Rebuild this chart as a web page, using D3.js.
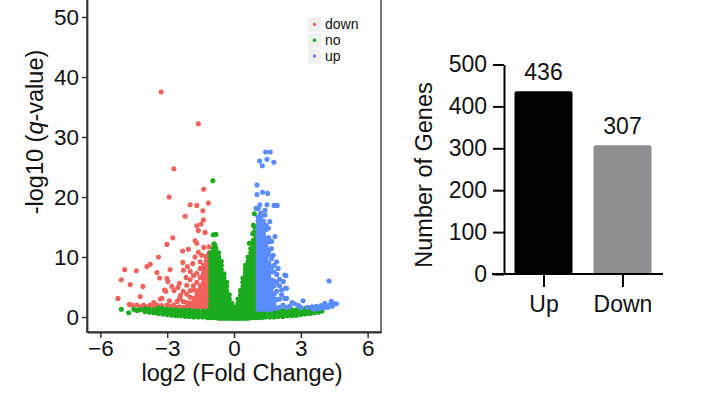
<!DOCTYPE html>
<html><head><meta charset="utf-8">
<script src="https://cdn.jsdelivr.net/npm/d3@7"></script>
<style>body{margin:0;background:#fff;} svg{display:block;font-family:"Liberation Sans",Arial,sans-serif;}</style>
</head><body><svg id="c" width="710" height="402"></svg>
<script>
// ---------- volcano plot data ----------
const xTicks = [-6, -3, 0, 3, 6];
const yTicks = [0, 10, 20, 30, 40, 50];
const legendLabels = ["down", "no", "up"];

// scattered "down" genes [log2FC, -log10 q]
const downPoints = [
  [-3.27,37.5],[-1.60,32.2],[-2.70,24.7],[-1.36,21.3],[-2.91,20.0],[-1.97,18.7],[-1.67,18.6],[-1.15,19.0],
  [-1.40,17.7],[-2.19,16.8],[-1.67,15.2],[-1.48,15.5],[-1.37,16.2],[-1.60,14.4],[-1.30,14.1],[-2.75,13.2],
  [-3.01,12.1],[-1.75,12.7],[-1.67,12.3],[-2.31,11.0],[-2.05,11.3],[-3.39,10.0],[-1.75,10.0],[-1.60,10.8],
  [-1.36,11.6],[-3.76,8.8],[-3.91,8.4],[-2.30,9.1],[-2.09,8.4],[-2.27,7.8],[-1.97,7.6],[-1.52,9.2],
  [-4.91,7.9],[-4.39,7.7],[-3.46,7.4],[-2.87,7.9],[-3.34,6.5],[-5.06,6.2],[-2.97,5.9],[-2.79,5.1],
  [-2.52,4.9],[-2.69,4.4],[-4.66,5.4],[-4.09,5.1],[-3.12,4.5],[-4.21,3.4],[-3.24,3.1],[-5.21,3.1],
  [-4.58,2.0],[-4.36,2.0],[-4.06,2.0],[-3.76,2.0],[-3.46,2.0],[-3.01,2.0],[-2.72,2.0],[-3.01,6.4],
  [-2.40,3.6],[-2.55,2.6],[-3.60,2.4],[-4.20,1.7],[-3.90,1.7],[-3.60,1.8],[-3.25,1.9],[-2.85,1.8],
  [-4.70,2.1],[-2.90,2.7],[-3.06,4.3],[-3.31,3.0],[-2.45,5.6],[-2.15,6.6],[-1.85,8.9],[-1.45,10.3]
];
// dense "down" block, columns [log2FC, [-log10 q ...]]
const downColumns = [
  [-2.60,[1.6]],
  [-2.45,[1.7,3.1]],
  [-2.28,[1.6,2.6,4.3]],
  [-2.12,[1.7,2.4,3.8,5.3]],
  [-1.97,[1.6,2.3,3.3,4.4,6.2]],
  [-1.82,[1.7,2.4,3.1,4.5,5.2,6.9]],
  [-1.67,[1.6,2.3,3.0,3.7,4.4,5.8,7.3]],
  [-1.52,[1.7,2.4,3.1,3.8,4.5,5.2,6.6,8.1]],
  [-1.37,[1.6,2.3,3.0,3.7,4.4,5.1,5.8,6.5,7.2,7.9,8.6]],
  [-1.24,[1.7,2.4,3.1,3.8,4.5,5.2,5.9,6.6,7.3,8.0,8.7,9.4,10.1]],
  [-1.12,[1.6,2.3,3.0,3.7,4.4,5.1,5.8,6.5,7.2,7.9,8.6,9.3,10.0,10.7,11.7]]
];

// scattered "no" genes
const noPoints = [
  [-0.95,22.7],[-0.93,13.7],[-0.81,13.8],[-0.86,12.0],[-0.90,12.2],[0.91,17.2],[0.87,15.3],[0.94,15.0],
  [0.69,12.3],[0.84,13.9],[0.92,14.2],[-5.06,1.3],[-4.73,0.7],[-4.50,1.3],[-4.35,1.1]
];
// dense "no" block, columns [log2FC, [-log10 q ...]]
const noColumns = [
  [-4.2,[1.2]],
  [-4.0,[0.9,1.4]],
  [-3.8,[0.8,1.3]],
  [-3.6,[0.7,1.2]],
  [-3.4,[0.6,1.1,1.5]],
  [-3.2,[0.5,1.0,1.4]],
  [-3.0,[0.4,0.9,1.3]],
  [-2.8,[0.3,0.8,1.2]],
  [-2.6,[0.2,0.7,1.2]],
  [-2.4,[0.2,0.7,1.1]],
  [-2.2,[0.1,0.6,1.1]],
  [-2.0,[0.1,0.6,1.1]],
  [-1.8,[0.0,0.5,1.0]],
  [-1.6,[0.0,0.5,1.0]],
  [-1.4,[0.0,0.5,1.0]],
  [-1.2,[-0.1,0.5,1.0]],
  [-1.05,[-0.1,0.5,1.1,1.7,2.3,3.0,3.7,4.4,5.1,5.8,6.5,7.2,7.9,8.6,9.3,10.0,10.7]],
  [-0.93,[-0.1,0.5,1.1,1.7,2.3,3.0,3.7,4.4,5.1,5.8,6.5,7.2,7.9,8.6,9.3,10.0,10.7,11.4]],
  [-0.81,[-0.1,0.5,1.1,1.7,2.3,3.0,3.7,4.4,5.1,5.8,6.5,7.2,7.9,8.6,9.3,10.0,10.7,11.4]],
  [-0.69,[-0.2,0.5,1.1,1.7,2.3,3.0,3.7,4.4,5.1,5.8,6.5,7.2,7.9,8.6,9.3,10.0,10.7]],
  [-0.57,[-0.2,0.5,1.1,1.7,2.3,3.0,3.7,4.4,5.1,5.8,6.5,7.2,7.9,8.6,9.3]],
  [-0.45,[-0.2,0.5,1.1,1.7,2.3,3.0,3.7,4.4,5.1,5.8,6.5,7.2]],
  [-0.33,[-0.2,0.4,1.0,1.7,2.3,3.0,3.7,4.4,5.1,5.8]],
  [-0.21,[-0.2,0.4,1.0,1.7,2.3,3.0,3.7]],
  [-0.10,[-0.2,0.4,1.0,1.7,2.3]],
  [0.00,[-0.2,0.4,1.0]],
  [0.08,[-0.2,0.4,1.0,1.7]],
  [0.18,[-0.2,0.4,1.0,1.7,2.3,3.0]],
  [0.29,[-0.2,0.4,1.0,1.7,2.3,3.0,3.7,4.4]],
  [0.40,[-0.2,0.4,1.0,1.7,2.3,3.0,3.7,4.4,5.1,5.8,6.5]],
  [0.51,[-0.2,0.5,1.1,1.7,2.3,3.0,3.7,4.4,5.1,5.8,6.5,7.2,7.9,8.6]],
  [0.63,[-0.2,0.5,1.1,1.7,2.3,3.0,3.7,4.4,5.1,5.8,6.5,7.2,7.9,8.6,9.3,10.0]],
  [0.75,[-0.1,0.5,1.1,1.7,2.3,3.0,3.7,4.4,5.1,5.8,6.5,7.2,7.9,8.6,9.3,10.0,10.7,11.4]],
  [0.87,[-0.1,0.5,1.1,1.7,2.3,3.0,3.7,4.4,5.1,5.8,6.5,7.2,7.9,8.6,9.3,10.0,10.7,11.4,12.1,12.8]],
  [0.98,[-0.1,0.5,1.1,1.7,2.3,3.0,3.7,4.4,5.1,5.8,6.5,7.2,7.9,8.6,9.3,10.0,10.7,11.4,12.1,12.8,13.4]],
  [1.10,[-0.1,0.5,1.0]],
  [1.25,[-0.1,0.5,1.0]],
  [1.4,[0.0,0.5,1.0]],
  [1.6,[0.0,0.5,1.0]],
  [1.8,[0.0,0.5,1.0]],
  [2.0,[0.1,0.6,1.1]],
  [2.2,[0.1,0.6,1.1]],
  [2.4,[0.2,0.7,1.1]],
  [2.6,[0.2,0.7,1.2]],
  [2.8,[0.3,0.8,1.2]],
  [3.0,[0.4,0.9,1.3]],
  [3.2,[0.5,1.0,1.4]],
  [3.4,[0.6,1.1]],
  [3.6,[0.7,1.2]],
  [3.8,[0.8,1.2]],
  [3.95,[1.0]]
];

// scattered "up" genes
const upPoints = [
  [1.42,27.5],[1.63,27.5],[1.48,26.3],[1.15,26.0],[1.79,25.8],[1.27,25.2],[1.03,22.0],[1.03,20.4],
  [1.28,20.8],[1.51,20.6],[1.16,18.7],[1.48,18.7],[1.80,18.6],[1.94,18.6],[0.99,18.1],[1.39,17.8],
  [1.09,18.1],[1.39,17.0],[1.61,15.9],[1.16,16.2],[1.54,14.8],[1.84,13.4],[1.69,12.6],[1.76,10.3],
  [1.91,9.2],[1.98,8.1],[2.28,7.0],[2.33,6.9],[2.21,5.9],[2.36,4.8],[2.31,4.8],[2.14,3.7],
  [2.36,3.1],[2.28,3.1],[2.14,4.5],[2.73,2.2],[3.10,2.7],[4.27,6.0],[3.55,1.4],[4.08,2.3],
  [4.37,2.6],[4.52,2.2],[4.60,2.2],[3.30,1.6],[3.50,1.7],[3.70,1.8],[3.90,1.9],[4.10,1.9],
  [4.30,2.0],[3.60,1.3],[3.80,1.4],[4.00,1.5],[4.20,1.6],[4.40,1.8],[2.50,1.8],[2.90,1.9],
  [3.00,1.6],[2.60,2.4],[2.20,2.0],[2.35,1.6]
];
// dense "up" block
const upColumns = [
  [1.08,[1.3,2.0,2.7,3.4,4.1,4.8,5.5,6.2,6.9,7.6,8.3,9.0,9.7,10.4,11.1,11.8,12.5,13.2,13.9,14.6,15.3,16.0,16.7]],
  [1.20,[1.3,2.0,2.7,3.4,4.1,4.8,5.5,6.2,6.9,7.6,8.3,9.0,9.7,10.4,11.1,11.8,12.5,13.2,13.9,14.6,15.3,16.0,16.7,17.3]],
  [1.32,[1.3,2.0,2.7,3.4,4.1,4.8,5.5,6.2,6.9,7.6,8.3,9.0,9.7,10.4,11.1,11.8,12.5,13.2,13.9,14.6,15.3,16.0]],
  [1.44,[1.3,2.0,2.7,3.4,4.1,4.8,5.5,6.2,6.9,7.6,8.3,9.0,9.7,10.4,11.1,11.8,12.5,13.2,14.6,15.3]],
  [1.56,[1.3,2.0,2.7,3.4,4.1,4.8,5.5,6.2,6.9,7.6,8.3,9.0,10.4,11.1,12.5,13.2]],
  [1.68,[1.3,2.0,2.7,3.4,4.1,4.8,5.5,6.2,7.6,8.3,9.7,11.4]],
  [1.80,[1.5,2.2,3.0,3.8,5.2,6.0,7.5,8.6]],
  [1.92,[1.5,2.9,4.3,5.7,7.1]],
  [2.04,[1.6,3.0,5.2,6.3]]
];

// ---------- bar chart data ----------
const barCategories = ["Up", "Down"];
const barValues = [436, 307];
const barTicks = [0, 100, 200, 300, 400, 500];

const colors = { down: "#F0625C", no: "#1CAA1F", up: "#5A8CFF" };
const barColors = ["#000000", "#8E8E93"];

function expand(points, columns) {
  const out = points.map(p => p.slice());
  columns.forEach(([x, ys]) => ys.forEach(y => out.push([x, y])));
  return out;
}
const downData = expand(downPoints, downColumns);
const noData = expand(noPoints, noColumns);
const upData = expand(upPoints, upColumns);

const svg = d3.select("#c");

// ---------- volcano ----------
const px0 = 87, px1 = 381, py0 = -1, py1 = 332;
const x = d3.scaleLinear().domain([-6.6, 6.6]).range([px0, px1]);
const y = d3.scaleLinear().domain([-2.5, 53]).range([py1, py0]);

svg.append("clipPath").attr("id", "clip").append("rect")
  .attr("x", px0).attr("y", py0).attr("width", px1 - px0).attr("height", py1 - py0);

const pts = svg.append("g").attr("clip-path", "url(#clip)");
[["down", downData], ["no", noData], ["up", upData]].forEach(([k, data]) => {
  pts.append("g").selectAll("circle").data(data).join("circle")
    .attr("cx", d => x(d[0])).attr("cy", d => y(d[1])).attr("r", 2.55)
    .attr("fill", colors[k]);
});

// panel border
svg.append("rect").attr("x", px0).attr("y", py0).attr("width", px1 - px0).attr("height", py1 - py0)
  .attr("fill", "none").attr("stroke", "#555").attr("stroke-width", 1.6);

const xAxis = svg.append("g").attr("transform", `translate(0,${py1})`)
  .call(d3.axisBottom(x).tickValues(xTicks).tickSize(6).tickPadding(2).tickSizeOuter(0));
const yAxis = svg.append("g").attr("transform", `translate(${px0},0)`)
  .call(d3.axisLeft(y).tickValues(yTicks).tickSize(5).tickPadding(3).tickSizeOuter(0));
[xAxis, yAxis].forEach(g => {
  g.select(".domain").attr("stroke", "#333").attr("stroke-width", 1.8);
  g.selectAll(".tick line").attr("stroke", "#333").attr("stroke-width", 1.5);
  g.selectAll(".tick text").attr("fill", "#111").style("font-size", "22.5px")
    .style("font-family", '"Liberation Sans",Arial,sans-serif');
});

svg.append("text").attr("x", 242).attr("y", 381).attr("text-anchor", "middle")
  .style("font-size", "23.5px").attr("fill", "#111").text("log2 (Fold Change)");
const yt = svg.append("text").attr("transform", "translate(43,132) rotate(-90)")
  .attr("text-anchor", "middle").style("font-size", "23.5px").attr("fill", "#111");
yt.append("tspan").text("-log10 (");
yt.append("tspan").style("font-style", "italic").text("q");
yt.append("tspan").text("-value)");

// legend
const lg = svg.append("g");
legendLabels.forEach((lab, i) => {
  const cy = 24.5 + i * 15.8;
  lg.append("rect").attr("x", 308).attr("y", cy - 7.5).attr("width", 13).attr("height", 15).attr("fill", "#f0f0f0");
  lg.append("circle").attr("cx", 314.5).attr("cy", cy).attr("r", 1.8).attr("fill", colors[lab]);
  lg.append("text").attr("x", 325).attr("y", cy + 4.5).style("font-size", "14px").attr("fill", "#111").text(lab);
});

// ---------- bar chart ----------
const bx = d3.scalePoint().domain(barCategories).range([504, 662]).padding(0.5);
const by = d3.scaleLinear().domain([0, 500]).range([274, 64.5]);
const barW = 58;

svg.append("g").selectAll("rect").data(barValues).join("rect")
  .attr("x", (d, i) => bx(barCategories[i]) - barW / 2)
  .attr("y", d => by(d)).attr("width", barW).attr("height", d => by(0) - by(d))
  .attr("rx", 2).attr("fill", (d, i) => barColors[i]);

svg.append("g").selectAll("text").data(barValues).join("text")
  .attr("x", (d, i) => bx(barCategories[i])).attr("y", d => by(d) - 11.5)
  .attr("text-anchor", "middle").style("font-size", "23px").attr("fill", "#111").text(d => d);

const bya = svg.append("g").attr("transform", "translate(504,0)")
  .call(d3.axisLeft(by).tickValues(barTicks).tickSize(11).tickPadding(6).tickSizeOuter(0));
const bxa = svg.append("g").attr("transform", "translate(0,274)")
  .call(d3.axisBottom(bx).tickSize(13).tickPadding(9).tickSizeOuter(0));
bxa.select(".domain").remove();
svg.append("line").attr("x1", 492).attr("x2", 663).attr("y1", 274).attr("y2", 274)
  .attr("stroke", "#000").attr("stroke-width", 2);
[bya, bxa].forEach(g => {
  g.select(".domain").attr("stroke", "#000").attr("stroke-width", 2);
  g.selectAll(".tick line").attr("stroke", "#000").attr("stroke-width", 2);
  g.selectAll(".tick text").attr("fill", "#111").style("font-size", "23px")
    .style("font-family", '"Liberation Sans",Arial,sans-serif');
});
svg.append("text").attr("transform", "translate(432,175) rotate(-90)").attr("text-anchor", "middle")
  .style("font-size", "23.5px").attr("fill", "#111").text("Number of Genes");
</script></body></html>
